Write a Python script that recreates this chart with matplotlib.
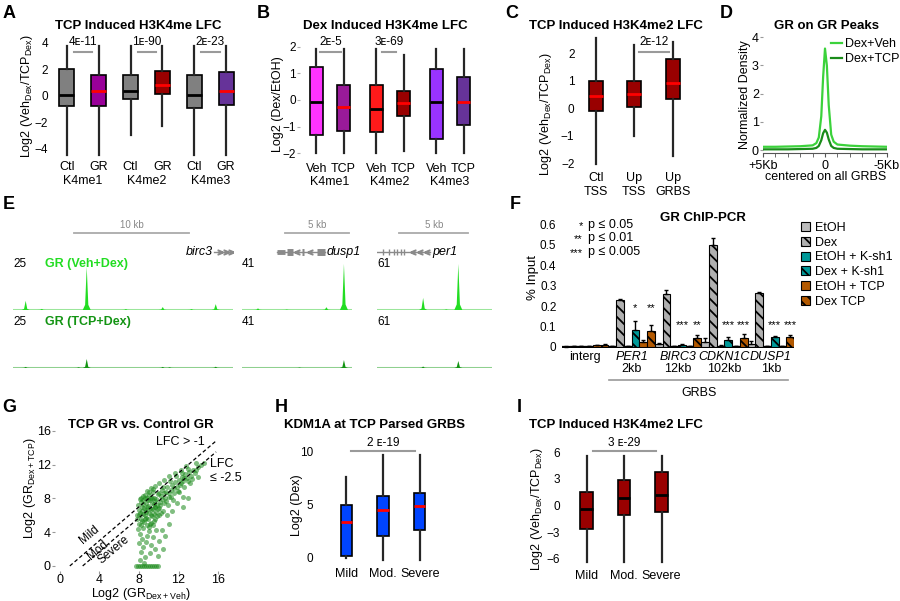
import matplotlib.pyplot as plt
from matplotlib.patches import Patch

plt.rcParams['font.family'] = ['Liberation Sans', 'DejaVu Sans']
plt.rcParams['mathtext.fontset'] = 'custom'
plt.rcParams['mathtext.rm'] = 'Liberation Sans'
plt.rcParams['hatch.linewidth'] = 1.3

# ---------------- data ----------------
# A: TCP induced H3K4me LFC
a_ticks = ["Ctl", "GR", "Ctl", "GR", "Ctl", "GR"]
a_groups = ["K4me1", "K4me2", "K4me3"]
a_q1 = [-0.8, -0.8, -0.25, 0.15, -0.95, -0.7]
a_med = [0.1, 0.35, 0.4, 0.85, 0.05, 0.4]
a_q3 = [2.0, 1.6, 1.55, 1.85, 1.55, 1.8]
a_lo = [-4.45, -4.45, -2.95, -2.3, -4.45, -4.45]
a_hi = [3.75, 3.75, 3.75, 3.75, 3.75, 3.75]
a_pvals = ["4ᴇ-11", "1ᴇ-90", "2ᴇ-23"]

# B: Dex induced H3K4me LFC
b_ticks = ["Veh", "TCP", "Veh", "TCP", "Veh", "TCP"]
b_groups = ["K4me1", "K4me2", "K4me3"]
b_q1 = [-1.3, -1.16, -1.2, -0.6, -1.47, -0.93]
b_med = [-0.07, -0.25, -0.35, -0.1, -0.07, -0.06]
b_q3 = [1.24, 0.56, 0.56, 0.35, 1.15, 0.85]
b_lo = [-1.97, -1.97, -1.97, -1.9, -1.97, -1.97]
b_hi = [1.9, 1.9, 1.9, 1.7, 1.9, 1.9]
b_pvals = ["2ᴇ-5", "3ᴇ-69"]

# C: TCP induced H3K4me2 LFC
c_ticks = ["Ctl\nTSS", "Up\nTSS", "Up\nGRBS"]
c_q1 = [-0.1, 0.05, 0.32]
c_med = [0.45, 0.5, 0.9]
c_q3 = [1.0, 1.0, 1.78]
c_lo = [-2.05, -1.0, -1.75]
c_hi = [2.55, 2.3, 2.4]
c_pval = "2ᴇ-12"

# D: GR on GR peaks
d_kb = [5, 4, 3, 2, 1, 0.7, 0.5, 0.3, 0.15, 0, -0.15, -0.3, -0.5, -0.7, -1, -2, -3, -4, -5]
d_veh = [0.12, 0.12, 0.13, 0.14, 0.17, 0.25, 0.45, 1.2, 2.6, 3.6, 3.0, 1.6, 0.55, 0.3, 0.2, 0.16, 0.14, 0.13, 0.12]
d_tcp = [0.03, 0.03, 0.03, 0.04, 0.05, 0.08, 0.15, 0.35, 0.6, 0.72, 0.62, 0.38, 0.15, 0.08, 0.05, 0.04, 0.03, 0.03, 0.03]

# E: genome browser tracks (peak position kb, height)
e_span_kb = [19.1, 8.6, 8.3]
e_scale = [25, 41, 61]
e_veh_pos = [[1.1, 2.5, 6.4, 9.8, 13.0, 15.5, 17.6], [1.25, 3.5, 6.6, 7.97], [3.33, 5.0, 5.87]]
e_veh_h = [[5, 0.6, 23.4, 0.5, 1.6, 0.5, 3.2], [1.5, 0.4, 2.5, 41], [16, 0.8, 61]]
e_tcp_pos = [[1.1, 5.7, 6.4, 13.0, 13.6, 17.6], [4.5, 7.97], [3.33, 5.87]]
e_tcp_h = [[0.6, 0.4, 4.9, 0.6, 0.4, 0.7], [0.4, 7.1], [2.0, 9.3]]
e_scalebar_kb = [(5.3, 15.3, "10 kb"), (3.36, 8.36, "5 kb"), (1.6, 6.6, "5 kb")]
e_genes = ["birc3", "dusp1", "per1"]

# F: GR ChIP-PCR
f_groups = ["interg", "PER1", "BIRC3", "CDKN1C", "DUSP1"]
f_dist = ["", "2kb", "12kb", "102kb", "1kb"]
f_conditions = ["EtOH", "Dex", "EtOH + K-sh1", "Dex + K-sh1", "EtOH + TCP", "Dex TCP"]
f_vals = [
    [0.002, 0.004, 0.015, 0.025, 0.015],
    [0.003, 0.23, 0.258, 0.497, 0.263],
    [0.004, 0.003, 0.004, 0.006, 0.004],
    [0.005, 0.083, 0.012, 0.034, 0.048],
    [0.008, 0.024, 0.004, 0.004, 0.004],
    [0.012, 0.078, 0.044, 0.044, 0.048],
]
f_err = [
    [0.001, 0.002, 0.006, 0.018, 0.012],
    [0.001, 0.006, 0.018, 0.035, 0.006],
    [0.001, 0.001, 0.001, 0.002, 0.001],
    [0.002, 0.044, 0.003, 0.015, 0.007],
    [0.002, 0.008, 0.001, 0.001, 0.001],
    [0.003, 0.030, 0.015, 0.018, 0.010],
]
# (group, condition index, stars, y)
f_stars = [(1, 3, "*", 0.19), (1, 5, "**", 0.19), (2, 3, "***", 0.108), (2, 5, "**", 0.108),
           (3, 3, "***", 0.108), (3, 5, "***", 0.108), (4, 3, "***", 0.108), (4, 5, "***", 0.108)]

# G: TCP GR vs control GR
g_x = [8.0, 8.2, 8.1, 8.3, 8.2, 8.5, 8.6, 8.5, 8.7, 8.6, 8.9, 9.0, 8.9, 9.1, 9.0, 9.3, 9.4, 9.3, 9.5, 9.4,
       9.7, 9.8, 9.7, 9.9, 10.0, 10.1, 10.2, 10.3, 8.4, 8.8, 9.2, 9.6, 10.0, 10.4, 10.5, 10.6, 10.7, 10.8,
       11.0, 11.2, 11.3, 11.5, 11.6, 11.8, 12.0, 12.1, 12.3, 12.5, 12.7, 12.9, 13.1, 13.3, 13.5, 13.7,
       14.0, 14.3, 14.6, 12.0, 12.6, 13.2, 11.4, 10.9,
       7.9, 8.1, 8.4, 8.8, 9.2, 9.6, 10.0, 10.5, 11.0, 11.6, 12.2, 12.8,
       7.9, 8.1, 8.3, 8.0, 8.4, 8.2, 8.6, 8.1, 8.8, 8.7, 9.0, 9.2, 9.4, 9.7, 9.1, 9.6, 10.0, 10.3, 8.5,
       9.9, 10.6, 11.0, 10.8, 11.3, 11.8, 12.4, 12.5, 13.0, 14.0, 10.4, 7.8, 7.8,
       8.3, 8.7, 9.1, 9.5, 8.4, 8.8, 9.2, 9.6, 10.0, 10.4, 11.1, 11.7, 12.3, 13.0, 13.8, 8.6, 9.0, 9.4,
       8.0, 8.0, 8.2, 8.3, 8.4, 8.4, 8.7, 8.7, 8.8, 8.9, 9.1, 9.2, 9.2, 9.3, 9.5, 9.5, 9.6, 9.6, 9.8, 9.9,
       10.1, 10.2, 10.3, 10.5, 10.7, 11.0, 11.2, 11.5, 11.9, 12.2, 12.6, 13.0, 13.4, 13.8,
       8.2, 8.6, 9.0, 9.4,
       7.7, 7.9, 8.1, 8.3, 8.5, 8.7, 8.9, 9.1, 9.3, 9.5, 9.7, 9.9]
g_y = [5.0, 5.6, 6.3, 7.0, 7.6, 5.2, 6.0, 6.8, 7.5, 8.1, 5.5, 6.3, 7.1, 7.8, 8.4, 5.9, 6.7, 7.4, 8.1, 8.7,
       6.4, 7.2, 7.9, 8.5, 6.9, 7.6, 8.3, 9.0, 4.5, 4.8, 5.1, 5.6, 6.0, 6.5, 7.4, 8.0, 8.7, 9.3,
       8.2, 9.0, 9.6, 8.6, 9.9, 9.3, 10.2, 9.6, 10.5, 10.0, 10.9, 10.4, 11.1, 10.7, 11.4, 11.0,
       11.7, 11.9, 12.2, 8.8, 9.3, 9.8, 7.8, 7.2,
       7.2, 7.9, 8.3, 8.9, 9.2, 9.5, 9.8, 10.2, 10.6, 11.0, 11.4, 11.8,
       4.4, 3.8, 3.2, 2.7, 2.2, 1.6, 1.1, 0.7, 3.6, 2.8, 4.1, 2.5, 3.4, 4.3, 1.5, 2.0, 3.0, 4.2, 0.4,
       1.2, 3.6, 5.0, 6.0, 6.5, 7.5, 8.2, 7.0, 8.0, 10.5, 2.0, 6.0, 5.5,
       6.5, 6.6, 6.9, 7.3, 7.8, 8.0, 8.0, 7.0, 8.6, 9.4, 10.0, 10.6, 11.0, 11.5, 12.2, 5.5, 4.6, 4.9,
       6.0, 6.6, 4.8, 5.3, 6.2, 7.3, 5.7, 6.4, 7.0, 7.8, 5.0, 6.0, 6.6, 8.0, 5.3, 6.2, 7.0, 7.7, 5.9, 6.7,
       7.2, 6.3, 7.9, 8.6, 7.7, 8.6, 8.2, 9.2, 8.9, 9.8, 10.4, 10.0, 10.3, 11.3,
       8.0, 8.4, 8.8, 9.1,
       0, 0, 0, 0, 0, 0, 0, 0, 0, 0, 0, 0]
g_offsets = [1.0, 2.3]

# H: KDM1A at TCP parsed GRBS
h_ticks = ["Mild", "Mod.", "Severe"]
h_q1 = [0.2, 2.0, 2.6]
h_med = [3.4, 4.5, 4.85]
h_q3 = [5.0, 5.8, 6.1]
h_lo = [0.0, -0.2, -0.2]
h_hi = [7.6, 9.7, 9.7]

# I: TCP induced H3K4me2 LFC by class
i_q1 = [-2.6, -1.1, -0.7]
i_med = [-0.35, 0.8, 1.2]
i_q3 = [1.5, 2.9, 3.7]
i_lo = [-6.4, -6.4, -6.4]
i_hi = [5.6, 5.6, 5.6]

# ---------------- figure ----------------
W, H = 900, 601
fig = plt.figure(figsize=(9, 6.01), dpi=100)


def px_axes(x0, y0, x1, y1):
    return fig.add_axes([x0 / W, 1 - y1 / H, (x1 - x0) / W, (y1 - y0) / H])


def px_text(x, y, s, **kw):
    kw.setdefault('ha', 'center')
    kw.setdefault('va', 'center')
    return fig.text(x / W, 1 - y / H, s, **kw)


def box_panel(ax, pos, q1, med, q3, lo, hi, colors, medcolors, width):
    stats = [dict(q1=q1[i], med=med[i], q3=q3[i], whislo=lo[i], whishi=hi[i], fliers=[])
             for i in range(len(pos))]
    bp = ax.bxp(stats, positions=pos, widths=width, patch_artist=True, showcaps=False,
                showfliers=False, manage_ticks=False,
                boxprops=dict(linewidth=1.2, edgecolor='black'),
                whiskerprops=dict(linewidth=1.6, color='#262626'),
                medianprops=dict(linewidth=2))
    for patch, c in zip(bp['boxes'], colors):
        patch.set_facecolor(c)
    for m, c in zip(bp['medians'], medcolors):
        m.set_color(c)
    for s in ax.spines.values():
        s.set_visible(False)


def pval(ax, x0, x1, yline, ytext, s):
    ax.plot([x0, x1], [yline, yline], color='#9a9a9a', lw=1.5, clip_on=False)
    ax.text((x0 + x1) / 2, ytext, s, ha='center', va='center', fontsize=8.5, clip_on=False)


def group_labels(ax, xs, labels, yfrac, **kw):
    for x, lab in zip(xs, labels):
        ax.text(x, yfrac, lab, transform=ax.get_xaxis_transform(), ha='center', va='center',
                fontsize=9, **kw)


sub_lfc = r"Log2 (Veh$_{\mathregular{Dex}}$/TCP$_{\mathregular{Dex}}$)"
red, black = "#ff0000", "#000000"

# ---- A ----
ax = px_axes(52, 35, 242, 158)
pos = [0, 1, 2, 3, 4, 5]
box_panel(ax, pos, a_q1, a_med, a_q3, a_lo, a_hi,
          ["#808080", "#990099", "#808080", "#990000", "#808080", "#663399"],
          [black, red] * 3, 0.47)
ax.set_xlim(-0.47, 5.5)
ax.set_ylim(-4.7, 4.6)
ax.set_yticks([-4, -2, 0, 2, 4], ["\u22124", "\u22122", "0", "2", "4"])
ax.set_xticks(pos, a_ticks)
group_labels(ax, [0.5, 2.5, 4.5], a_groups, -0.185)
ax.tick_params(which='both', length=0, labelsize=9, pad=2)
ax.tick_params(axis='y', labelsize=8.5, pad=3)
for k, p in enumerate(a_pvals):
    pval(ax, 2 * k + 0.22, 2 * k + 0.8, 3.3, 4.1, p)
px_text(27, 96, sub_lfc, rotation=90, fontsize=9)
px_text(138, 26, "TCP Induced H3K4me LFC", fontsize=9.5, fontweight='bold')

# ---- B ----
ax = px_axes(300, 36, 480, 160)
pos = [0, 1, 2.2, 3.2, 4.4, 5.4]
box_panel(ax, pos, b_q1, b_med, b_q3, b_lo, b_hi,
          ["#ff33ff", "#991a99", "#ff1a1a", "#990000", "#9933ff", "#663399"],
          [black, red] * 3, 0.48)
ax.set_xlim(-0.6, 6.0)
ax.set_ylim(-2.25, 2.4)
ax.set_yticks([-2, -1, 0, 1, 2], ["\u22122", "\u22121", "0", "1", "2"])
ax.set_xticks(pos, b_ticks)
group_labels(ax, [0.5, 2.7, 4.9], b_groups, -0.175)
ax.tick_params(axis='x', length=0, labelsize=9, pad=2)
ax.tick_params(axis='y', length=2, color='#aaaaaa', labelsize=8.5, pad=1)
pval(ax, 0.15, 0.92, 1.8, 2.17, b_pvals[0])
pval(ax, 2.4, 2.93, 1.8, 2.17, b_pvals[1])
px_text(278, 104, "Log2 (Dex/EtOH)", rotation=90, fontsize=9)
px_text(385, 26, "Dex Induced H3K4me LFC", fontsize=9.5, fontweight='bold')

# ---- C ----
ax = px_axes(580, 36, 694, 168)
pos = [0, 1, 2.05]
box_panel(ax, pos, c_q1, c_med, c_q3, c_lo, c_hi, ["#990000"] * 3, [red] * 3, 0.37)
ax.set_xlim(-0.42, 2.6)
ax.set_ylim(-2.18, 2.62)
ax.set_yticks([-2, -1, 0, 1, 2], ["\u22122", "\u22121", "0", "1", "2"])
ax.set_xticks(pos, c_ticks)
ax.tick_params(which='both', length=0, labelsize=9, pad=3)
ax.tick_params(axis='y', labelsize=8.5, pad=4)
pval(ax, 1.15, 1.93, 2.04, 2.4, c_pval)
px_text(546, 114, sub_lfc, rotation=90, fontsize=9)
px_text(616, 26, "TCP Induced H3K4me2 LFC", fontsize=9.5, fontweight='bold')

# ---- D ----
ax = px_axes(763, 33, 887, 153)
ax.plot(d_kb, d_veh, color="#3bd23b", lw=1.6, label="Dex+Veh")
ax.plot(d_kb, d_tcp, color="#1a8c1a", lw=1.6, label="Dex+TCP")
ax.set_xlim(5, -5)
ax.set_ylim(-0.1, 4.15)
for s in ['top', 'right', 'left']:
    ax.spines[s].set_visible(False)
ax.spines['bottom'].set_color('#555555')
ax.set_xticks([5, 0, -5], ["+5Kb", "0", "-5Kb"])
ax.set_xticks(range(-5, 6), minor=True)
ax.set_yticks([0, 1, 2, 3, 4])
ax.tick_params(axis='x', which='both', length=3, color='#555555', labelsize=9, pad=2)
ax.tick_params(axis='y', length=2, color='#999999', labelsize=9, pad=1)
ax.legend(loc='upper left', bbox_to_anchor=(831 / W, 1 - 38 / H), bbox_transform=fig.transFigure,
          frameon=False, fontsize=9, handlelength=0.9, handletextpad=0.25, labelspacing=0.25,
          borderpad=0, borderaxespad=0)
px_text(745, 95, "Normalized Density", rotation=90, fontsize=9)
px_text(826, 177, "centered on all GRBS", fontsize=9)
px_text(826, 26, "GR on GR Peaks", fontsize=9.5, fontweight='bold')

# ---- E ----
e_cols_px = [(13, 233), (242, 352), (377, 492)]
for k, (x0, x1) in enumerate(e_cols_px):
    span = e_span_kb[k]
    hw = 4.0 * span / (x1 - x0)
    # header: scale bar and gene model
    hx = px_axes(x0, 218, x1, 258)
    hx.set_xlim(0, span)
    hx.set_ylim(0, 1)
    hx.axis('off')
    sb0, sb1, sbl = e_scalebar_kb[k]
    hx.plot([sb0, sb1], [0.63, 0.63], color='#aaaaaa', lw=1.3)
    hx.text((sb0 + sb1) / 2, 0.82, sbl, ha='center', va='center', fontsize=7, color='#888888')
    gc = '#8a8a8a'
    if k == 0:
        hx.plot([17.45, 19.0], [0.15, 0.15], color=gc, lw=1)
        hx.plot([17.95, 18.45, 18.95], [0.15] * 3, ls='none', marker='$>$', ms=3.5, color=gc)
        hx.text(17.35, 0.15, e_genes[k], ha='right', va='center', fontsize=9, style='italic')
    elif k == 1:
        hx.plot([2.7, 6.5], [0.15, 0.15], color=gc, lw=1)
        hx.plot([2.7, 3.4], [0.15, 0.15], color=gc, lw=3.5, solid_capstyle='butt')
        for e0, e1 in [(3.5, 3.95), (4.7, 4.85), (5.9, 6.5)]:
            hx.plot([e0, e1], [0.15, 0.15], color=gc, lw=5, solid_capstyle='butt')
        hx.plot([4.3, 5.35], [0.15] * 2, ls='none', marker='$<$', ms=3.5, color=gc)
        hx.text(6.6, 0.15, e_genes[k], ha='left', va='center', fontsize=9, style='italic')
    else:
        hx.plot([0.0, 3.85], [0.15, 0.15], color=gc, lw=1)
        hx.plot([0.4, 0.9, 1.2, 1.45, 1.7, 1.95], [0.15] * 6, ls='none', marker='|', ms=5, color=gc)
        hx.plot([2.6, 3.1, 3.6], [0.15] * 3, ls='none', marker='$<$', ms=3.5, color=gc)
        hx.text(4.0, 0.15, e_genes[k], ha='left', va='center', fontsize=9, style='italic')
    # tracks
    rows = [(264, 310, e_veh_pos[k], e_veh_h[k], '#22dd22', '#9be69b'),
            (322, 368, e_tcp_pos[k], e_tcp_h[k], '#139413', '#8fd08f')]
    for r, (y0, y1, pp, hh, fc, bc) in enumerate(rows):
        tx = px_axes(x0, y0, x1, y1)
        tx.set_xlim(0, span)
        tx.set_ylim(0, e_scale[k])
        tx.axis('off')
        tx.axhline(0, color=bc, lw=2.2, zorder=1)
        for p, h in zip(pp, hh):
            tx.fill([p - hw, p - 0.4 * hw, p, p + 0.4 * hw, p + hw],
                    [0, 0.12 * h, h, 0.12 * h, 0], color=fc, lw=0, zorder=2)
        tx.text(0, 1.0, str(e_scale[k]), transform=tx.transAxes, ha='left', va='center', fontsize=8.5)
        if k == 0:
            lab = "GR (Veh+Dex)" if r == 0 else "GR (TCP+Dex)"
            labc = '#22dd22' if r == 0 else '#139413'
            tx.text(2.8, 1.0, lab, transform=tx.get_xaxis_transform(), ha='left', va='center',
                    fontsize=9, fontweight='bold', color=labc)

# ---- F ----
ax = px_axes(562, 220, 794, 348)
f_colors = ["#bbbbbb", "#b0b0b0", "#009999", "#009999", "#b35900", "#b35900"]
f_hatch = [None, "\\\\\\", None, "\\\\\\", None, "\\\\\\"]
bw = 1 / 6
for c in range(6):
    xs = [g + (c - 2.5) * bw for g in range(5)]
    ax.bar(xs, f_vals[c], width=bw, color=f_colors[c], edgecolor='black', lw=0.8,
           hatch=f_hatch[c], yerr=[[0] * 5, f_err[c]], capsize=1.5,
           error_kw=dict(elinewidth=1, capthick=1, ecolor='black'))
for g, c, s, y in f_stars:
    ax.text(g + (c - 2.5) * bw, y, s, ha='center', va='center', fontsize=8)
ax.axhline(0, color='black', lw=1.6, zorder=0)
ax.set_xlim(-0.5, 4.5)
ax.set_ylim(-0.005, 0.62)
for s in ax.spines.values():
    s.set_visible(False)
ax.set_yticks([0, 0.1, 0.2, 0.3, 0.4, 0.5, 0.6], ["0", "0.1", "0.2", "0.3", "0.4", "0.5", "0.6"])
ax.set_xticks(range(5), f_groups)
for t in ax.get_xticklabels()[1:]:
    t.set_fontstyle('italic')
group_labels(ax, range(5), f_dist, -0.165)
ax.tick_params(length=0, labelsize=9, pad=2)
ax.tick_params(axis='y', labelsize=8.5, pad=4)
ax.plot([0.52, 4.37], [-0.25, -0.25], transform=ax.get_xaxis_transform(), color='#999999',
        lw=1.2, clip_on=False)
ax.text(2.45, -0.35, "GRBS", transform=ax.get_xaxis_transform(), ha='center', va='center', fontsize=9)
px_text(533, 277, "% Input", rotation=90, fontsize=9.5)
px_text(703, 218, "GR ChIP-PCR", fontsize=9.5, fontweight='bold')
for k, (st, txt) in enumerate([("*", "p \u2264 0.05"), ("**", "p \u2264 0.01"), ("***", "p \u2264 0.005")]):
    px_text(583, 226 + 13.5 * k, st, ha='right', fontsize=8)
    px_text(588, 225 + 13.5 * k, txt, ha='left', fontsize=9)
handles = [Patch(facecolor=f_colors[c], edgecolor='black', hatch=f_hatch[c], lw=0.8) for c in range(6)]
fig.legend(handles, f_conditions, loc='upper left', bbox_to_anchor=(801 / W, 1 - 222 / H),
           frameon=False, fontsize=9, handlelength=0.75, handleheight=0.75, handletextpad=0.4,
           labelspacing=0.22, borderpad=0, borderaxespad=0)

# ---- G ----
ax = px_axes(55, 424, 226, 571)
ax.scatter(g_x, g_y, s=13, color='#1a8a1a', alpha=0.55, lw=0)
for off in g_offsets:
    ax.plot([off, 15.8], [0, 15.8 - off], color='black', lw=0.9, ls=(0, (3, 2)))
ax.set_xlim(-0.5, 16.8)
ax.set_ylim(-0.6, 16.8)
for s in ax.spines.values():
    s.set_visible(False)
ax.set_xticks([0, 4, 8, 12, 16])
ax.set_yticks([0, 4, 8, 12, 16])
ax.tick_params(length=2, color='#999999', labelsize=9, pad=1)
ax.tick_params(axis='x', pad=0)
ax.text(12.2, 14.7, "LFC > -1", ha='center', va='center', fontsize=9)
ax.text(15.15, 11.25, "LFC\n\u2264 -2.5", ha='left', va='center', fontsize=9, linespacing=1.2)
ax.text(3.0, 3.7, "Mild", rotation=40, ha='center', va='center', fontsize=8.5)
ax.text(4.0, 2.0, "Mod.", rotation=40, ha='center', va='center', fontsize=8.5)
ax.text(5.45, 1.9, "Severe", rotation=40, ha='center', va='center', fontsize=8.5)
px_text(30, 488, r"Log2 (GR$_{\mathregular{Dex+TCP}}$)", rotation=90, fontsize=9)
px_text(141, 594, r"Log2 (GR$_{\mathregular{Dex+Veh}}$)", fontsize=9)
px_text(141, 425, "TCP GR vs. Control GR", fontsize=9.5, fontweight='bold')

# ---- H ----
ax = px_axes(324, 444, 442, 564)
pos = [0, 1, 2]
box_panel(ax, pos, h_q1, h_med, h_q3, h_lo, h_hi, ["#0044ff"] * 3, [red] * 3, 0.3)
ax.set_xlim(-0.6, 2.6)
ax.set_ylim(-0.6, 10.7)
ax.set_yticks([0, 5, 10])
ax.set_xticks(pos, h_ticks)
ax.tick_params(which='both', length=0, labelsize=9, pad=3)
ax.tick_params(axis='y', labelsize=8.5, pad=8)
pval(ax, 0.13, 1.86, 10.0, 10.75, "2 \u1d07-19")
px_text(297, 505, "Log2 (Dex)", rotation=90, fontsize=9)
px_text(375, 425, "KDM1A at TCP Parsed GRBS", fontsize=9.5, fontweight='bold')

# ---- I ----
ax = px_axes(564, 444, 684, 566)
box_panel(ax, pos, i_q1, i_med, i_q3, i_lo, i_hi, ["#990000"] * 3, [black] * 3, 0.34)
ax.set_xlim(-0.6, 2.6)
ax.set_ylim(-6.8, 6.9)
ax.set_yticks([-6, -3, 0, 3, 6], ["\u22126", "\u22123", "0", "3", "6"])
ax.set_xticks(pos, h_ticks)
ax.tick_params(which='both', length=0, labelsize=9, pad=3)
ax.tick_params(axis='y', labelsize=8.5, pad=3)
pval(ax, 0.16, 1.85, 6.07, 7.0, "3 \u1d07-29")
px_text(537, 509, sub_lfc, rotation=90, fontsize=9)
px_text(616, 425, "TCP Induced H3K4me2 LFC", fontsize=9.5, fontweight='bold')

# panel letters
for letter, x, y in [("A", 9, 13), ("B", 263, 13), ("C", 512, 13), ("D", 726, 13), ("E", 9, 205),
                     ("F", 515, 205), ("G", 9, 407), ("H", 281, 407), ("I", 519, 407)]:
    px_text(x, y, letter, fontsize=13, fontweight='bold')

fig.savefig("out.png", dpi=100)
